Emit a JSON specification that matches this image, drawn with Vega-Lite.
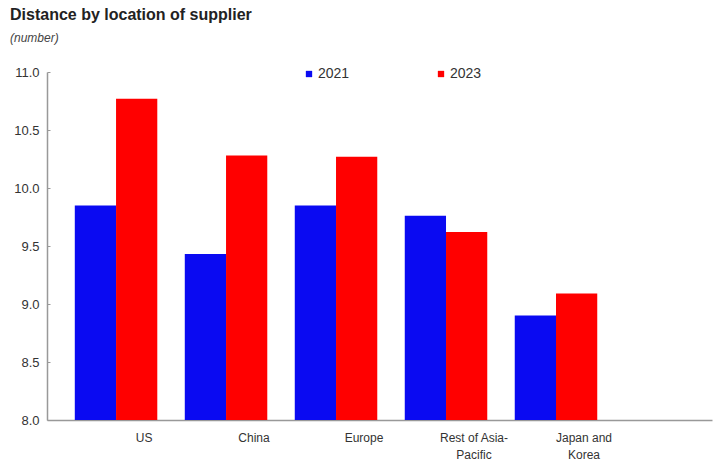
{
  "$schema": "https://vega.github.io/schema/vega-lite/v6.json",
  "autosize": {"type": "none"},
  "width": 665,
  "height": 348,
  "padding": {"left": 47, "top": 72, "right": 7, "bottom": 44},
  "background": "white",
  "title": {
    "text": "Distance by location of supplier",
    "subtitle": "(number)",
    "anchor": "start",
    "frame": "group",
    "dx": -37,
    "offset": 22,
    "font": "Liberation Sans",
    "fontSize": 16,
    "fontWeight": "bold",
    "color": "#222222",
    "subtitleFont": "Liberation Sans",
    "subtitleFontSize": 12,
    "subtitleFontStyle": "italic",
    "subtitleColor": "#444444",
    "subtitlePadding": 10
  },
  "data": {
    "values": [
      {"region": "US", "year": "2021", "value": 9.85},
      {"region": "US", "year": "2023", "value": 10.77},
      {"region": "China", "year": "2021", "value": 9.43},
      {"region": "China", "year": "2023", "value": 10.28},
      {"region": "Europe", "year": "2021", "value": 9.85},
      {"region": "Europe", "year": "2023", "value": 10.27},
      {"region": "Rest of Asia-Pacific", "year": "2021", "value": 9.76},
      {"region": "Rest of Asia-Pacific", "year": "2023", "value": 9.62},
      {"region": "Japan and Korea", "year": "2021", "value": 8.9},
      {"region": "Japan and Korea", "year": "2023", "value": 9.09}
    ]
  },
  "mark": {"type": "bar", "clip": true},
  "encoding": {
    "x": {
      "field": "region",
      "type": "nominal",
      "sort": null,
      "scale": {"paddingInner": 0.25, "paddingOuter": 0.648, "align": 0.195},
      "axis": {
        "title": null,
        "labelAngle": 0,
        "ticks": false,
        "domainColor": "#999999",
        "domainWidth": 1.5,
        "labelFont": "Liberation Sans",
        "labelFontSize": 12,
        "labelColor": "#333333",
        "labelPadding": 12,
        "labelOffset": 28,
        "labelLineHeight": 17,
        "labelExpr": "datum.value == 'Rest of Asia-Pacific' ? ['Rest of Asia-', 'Pacific'] : datum.value == 'Japan and Korea' ? ['Japan and', 'Korea'] : datum.value"
      }
    },
    "xOffset": {"field": "year", "type": "nominal", "scale": {"paddingInner": 0, "paddingOuter": 0}},
    "y": {
      "field": "value",
      "type": "quantitative",
      "scale": {"domain": [8, 11], "nice": false, "zero": false},
      "axis": {
        "title": null,
        "values": [8, 8.5, 9, 9.5, 10, 10.5, 11],
        "format": ".1f",
        "grid": false,
        "domainColor": "#999999",
        "domainWidth": 1.5,
        "tickColor": "#999999",
        "tickSize": -3,
        "labelFont": "Liberation Sans",
        "labelFontSize": 13,
        "labelColor": "#333333",
        "labelPadding": 11
      }
    },
    "color": {
      "field": "year",
      "type": "nominal",
      "scale": {"domain": ["2021", "2023"], "range": ["#0a0af2", "#ff0000"]},
      "legend": {
        "title": null,
        "orient": "none",
        "legendX": 255,
        "legendY": -5,
        "direction": "horizontal",
        "symbolType": "square",
        "symbolSize": 40,
        "symbolStrokeWidth": 0,
        "labelFont": "Liberation Sans",
        "labelFontSize": 14,
        "labelColor": "#333333",
        "labelOffset": 2,
        "columnPadding": 84
      }
    }
  },
  "config": {"view": {"stroke": null}}
}
